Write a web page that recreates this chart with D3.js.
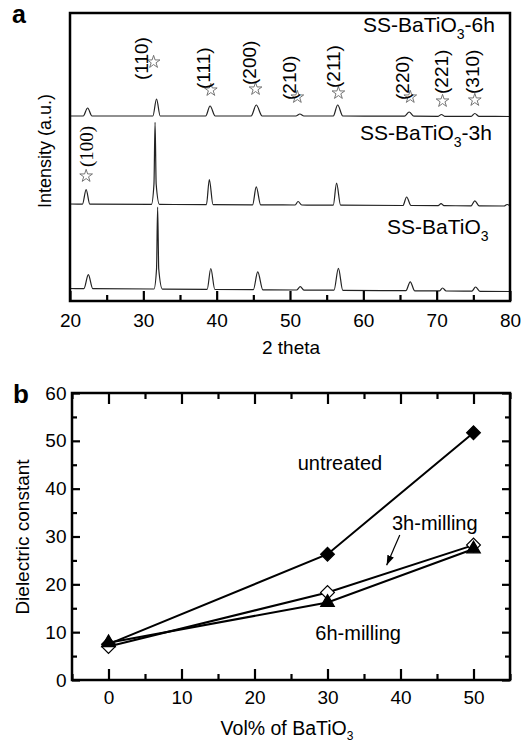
<!DOCTYPE html>
<html>
<head>
<meta charset="utf-8">
<script src="https://cdn.jsdelivr.net/npm/d3@7"></script>
<style>
  body { margin: 0; background: #fff; }
  svg text { font-family: "Liberation Sans", Arial, sans-serif; fill: #000; }
</style>
</head>
<body>
<div id="chart"></div>
<script>
// ---- panel a : XRD patterns, [2theta, intensity (a.u.)]
var xrdPlain = [[20,12.5],
  [21.9,12.4],[22.5,26.4],[23.1,12.4],
  [31.45,12],[31.8,32],[31.95,94],[32.1,32],[32.6,11.9],
  [38.7,11.6],[39.2,32.5],[39.75,11.5],
  [45.0,11.3],[45.6,29.2],[46.3,11.2],
  [50.9,11],[51.4,14.4],[51.9,10.9],
  [56.0,10.8],[56.6,32.7],[57.2,10.7],
  [65.8,10.3],[66.4,19.2],[67.0,10.2],
  [70.4,10.1],[70.8,13],[71.3,10],
  [74.8,9.8],[75.3,14],[75.9,9.7],
  [80,9.5]];

var xrd3h = [[20,97],
  [21.7,96.9],[22.2,111.4],[22.7,96.9],
  [31.1,96.6],[31.45,117],[31.6,178.6],[31.75,117],[32.2,96.6],
  [38.6,96.4],[39.0,121.4],[39.5,96.4],
  [44.9,96.2],[45.4,114.2],[46.0,96.2],
  [50.7,96],[51.1,99.5],[51.6,96],
  [55.9,95.8],[56.35,117.8],[56.9,95.8],
  [65.4,95.5],[65.9,104],[66.5,95.5],
  [70.2,95.3],[70.6,97.3],[71.0,95.3],
  [74.7,95.2],[75.2,100.2],[75.8,95.1],
  [79.2,95],[79.6,96.5],[80,95]];

var xrd6h = [[20,185],
  [21.8,185],[22.4,193],[23.0,185],
  [31.3,185],[31.8,202],[32.3,185],
  [38.5,185],[39.1,195],[39.8,185],
  [44.7,185],[45.4,196],[46.2,185],
  [50.8,185],[51.35,187],[51.9,185],
  [55.9,185],[56.5,196],[57.2,185],
  [65.6,184.8],[66.25,189],[66.9,184.8],
  [70.2,184.7],[70.65,186.5],[71.1,184.7],
  [74.7,184.6],[75.2,187.5],[75.8,184.6],
  [80,184.5]];

var hklNames = ["(100)","(110)","(111)","(200)","(210)","(211)","(220)","(221)","(310)"];
var hklTheta = [22.2, 31.4, 39.2, 45.3, 51.0, 56.6, 66.4, 70.8, 75.2];
var hklStarLevel = [125, 239, 211, 212, 204, 208, 204, 200, 201];

var thetaTicks = [20, 30, 40, 50, 60, 70, 80];

// ---- panel b : dielectric constant vs vol% BaTiO3
var volPct = [0, 30, 50];
var untreated = [7.5, 26.3, 51.7];
var milled3h = [7.0, 18.3, 28.2];
var milled6h = [7.8, 16.2, 27.4];
var volTicks = [0, 10, 20, 30, 40, 50];
var dkTicks = [0, 10, 20, 30, 40, 50, 60];

var width = 527, height = 742;

var svg = d3.select("#chart").append("svg")
    .attr("width", width)
    .attr("height", height);

//panel a frame
var pa = {left: 70, right: 510, top: 13, bottom: 301};
var xA = d3.scaleLinear().domain([20, 80]).range([pa.left, pa.right]);
var yA = d3.scaleLinear().domain([0, 288]).range([pa.bottom, pa.top]);

var lineA = d3.line()
    .x(function(d) { return xA(d[0]); })
    .y(function(d) { return yA(d[1]); })
    .curve(d3.curveMonotoneX);

svg.append("g").selectAll("path")
    .data([xrdPlain, xrd3h, xrd6h])
  .enter().append("path")
    .attr("d", lineA)
    .attr("fill", "none")
    .attr("stroke", "#222")
    .attr("stroke-width", 1.2);

// major / minor ticks on bottom
var axA = svg.append("g")
    .attr("transform", "translate(0," + pa.bottom + ")")
    .call(d3.axisBottom(xA).tickValues(thetaTicks).tickSize(-10).tickPadding(12.5));
axA.select(".domain").remove();
axA.selectAll("line").attr("stroke-width", 2.2);
axA.selectAll("text").attr("font-size", 19).attr("font-family", null);

var axAm = svg.append("g")
    .attr("transform", "translate(0," + pa.bottom + ")")
    .call(d3.axisBottom(xA).tickValues([25, 35, 45, 55, 65, 75]).tickSize(-6).tickFormat(""));
axAm.select(".domain").remove();
axAm.selectAll("line").attr("stroke-width", 2.2);

svg.append("rect")
    .attr("x", pa.left).attr("y", pa.top)
    .attr("width", pa.right - pa.left).attr("height", pa.bottom - pa.top)
    .attr("fill", "none").attr("stroke", "#000").attr("stroke-width", 2.5);

// stars + hkl labels
var labelOffset = [[0,-9],[-13,18],[-8,-1],[-7,-4],[-8,3],[-5,-5],[-8,3],[-2,-7],[-3,-6]];
var star = d3.symbol().type(d3.symbolStar).size(50);

hklNames.forEach(function(name, i) {
  var sx = xA(hklTheta[i]), sy = yA(hklStarLevel[i]);
  svg.append("path")
      .attr("d", star())
      .attr("transform", "translate(" + sx + "," + sy + ")")
      .attr("fill", "#fff")
      .attr("stroke", "#666")
      .attr("stroke-width", 0.9);
  var lx = sx + labelOffset[i][0] + 7, ly = sy + labelOffset[i][1];
  svg.append("text")
      .attr("transform", "translate(" + lx + "," + ly + ") rotate(-90)")
      .attr("font-size", 19)
      .style("font-family", i == 0 ? '"Liberation Serif", "Times New Roman", serif' : null)
      .text(name);
});

// sample names
function sampleLabel(x, y, suffix) {
  var t = svg.append("text")
      .attr("x", x).attr("y", y)
      .attr("font-size", 21);
  t.append("tspan").text("SS-BaTiO");
  t.append("tspan").attr("font-size", 14).attr("dy", 7).text("3");
  if (suffix) t.append("tspan").attr("dy", -7).text(suffix);
}
sampleLabel(363, 32, "-6h");
sampleLabel(360, 140, "-3h");
sampleLabel(387, 234, "");

svg.append("text")
    .attr("x", 291).attr("y", 353.5)
    .attr("text-anchor", "middle").attr("font-size", 19)
    .text("2 theta");

svg.append("text")
    .attr("transform", "translate(51,151) rotate(-90)")
    .attr("text-anchor", "middle").attr("font-size", 18)
    .text("Intensity (a.u.)");

svg.append("text")
    .attr("x", 12).attr("y", 23)
    .attr("font-size", 25).attr("font-weight", "bold")
    .text("a");

//panel b frame
var pb = {left: 72, right: 510, top: 393, bottom: 680};
var xB = d3.scaleLinear().domain([-5, 55]).range([pb.left, pb.right]);
var yB = d3.scaleLinear().domain([0, 60]).range([pb.bottom, pb.top]);

function tickStyle(g) {
  g.select(".domain").remove();
  g.selectAll("line").attr("stroke-width", 2.2);
  g.selectAll("text").attr("font-size", 19).attr("font-family", null);
}

var minorX = [-5, 5, 15, 25, 35, 45, 55];
var minorY = [5, 15, 25, 35, 45, 55];

svg.append("g").attr("transform", "translate(0," + pb.bottom + ")")
    .call(d3.axisBottom(xB).tickValues(volTicks).tickSize(-11).tickPadding(11)).call(tickStyle);
svg.append("g").attr("transform", "translate(0," + pb.bottom + ")")
    .call(d3.axisBottom(xB).tickValues(minorX).tickSize(-6).tickFormat("")).call(tickStyle);
svg.append("g").attr("transform", "translate(0," + pb.top + ")")
    .call(d3.axisTop(xB).tickValues(volTicks).tickSize(-11).tickFormat("")).call(tickStyle);
svg.append("g").attr("transform", "translate(0," + pb.top + ")")
    .call(d3.axisTop(xB).tickValues(minorX).tickSize(-6).tickFormat("")).call(tickStyle);
svg.append("g").attr("transform", "translate(" + pb.left + ",0)")
    .call(d3.axisLeft(yB).tickValues(dkTicks).tickSize(-8).tickPadding(5.5)).call(tickStyle);
svg.append("g").attr("transform", "translate(" + pb.left + ",0)")
    .call(d3.axisLeft(yB).tickValues(minorY).tickSize(-5).tickFormat("")).call(tickStyle);
svg.append("g").attr("transform", "translate(" + pb.right + ",0)")
    .call(d3.axisRight(yB).tickValues(dkTicks).tickSize(-8).tickFormat("")).call(tickStyle);
svg.append("g").attr("transform", "translate(" + pb.right + ",0)")
    .call(d3.axisRight(yB).tickValues(minorY).tickSize(-5).tickFormat("")).call(tickStyle);

svg.append("rect")
    .attr("x", pb.left).attr("y", pb.top)
    .attr("width", pb.right - pb.left).attr("height", pb.bottom - pb.top)
    .attr("fill", "none").attr("stroke", "#000").attr("stroke-width", 2.5);

var series = [
  {vals: untreated, shape: "diamond", fill: "#000"},
  {vals: milled3h, shape: "diamond", fill: "#fff"},
  {vals: milled6h, shape: "triangle", fill: "#000"}
];

var lineB = d3.line()
    .x(function(d, i) { return xB(volPct[i]); })
    .y(function(d) { return yB(d); });

series.forEach(function(s) {
  svg.append("path")
      .attr("d", lineB(s.vals))
      .attr("fill", "none")
      .attr("stroke", "#000")
      .attr("stroke-width", 2);
});

series.forEach(function(s) {
  var sym = s.shape == "diamond"
      ? d3.symbol().type(d3.symbolSquare).size(95)
      : d3.symbol().type(d3.symbolTriangle).size(80);
  svg.append("g").selectAll("path")
      .data(s.vals)
    .enter().append("path")
      .attr("d", sym())
      .attr("transform", function(d, i) {
        return "translate(" + xB(volPct[i]) + "," + yB(d) + ")" + (s.shape == "diamond" ? " rotate(45)" : "");
      })
      .attr("fill", s.fill)
      .attr("stroke", "#000")
      .attr("stroke-width", 1.2);
});

// annotations
svg.append("text").attr("x", xB(31.7)).attr("y", yB(43.9))
    .attr("text-anchor", "middle").attr("font-size", 20).text("untreated");
svg.append("text").attr("x", xB(44.7)).attr("y", yB(31.4))
    .attr("text-anchor", "middle").attr("font-size", 20).text("3h-milling");
svg.append("text").attr("x", xB(34.2)).attr("y", yB(8.4))
    .attr("text-anchor", "middle").attr("font-size", 20).text("6h-milling");

svg.append("defs").append("marker")
    .attr("id", "arrow")
    .attr("viewBox", "0 0 10 10")
    .attr("refX", 10).attr("refY", 5)
    .attr("markerWidth", 10).attr("markerHeight", 10)
    .attr("markerUnits", "userSpaceOnUse")
    .attr("orient", "auto")
  .append("path").attr("d", "M0,1.5L10,5L0,8.5Z").attr("fill", "#000");

svg.append("line")
    .attr("x1", xB(39.9)).attr("y1", yB(30.3))
    .attr("x2", xB(38.1)).attr("y2", yB(24.0))
    .attr("stroke", "#000").attr("stroke-width", 1.2)
    .attr("marker-end", "url(#arrow)");

var xl = svg.append("text")
    .attr("x", 287).attr("y", 735)
    .attr("text-anchor", "middle").attr("font-size", 19.5);
xl.append("tspan").text("Vol% of BaTiO");
xl.append("tspan").attr("font-size", 12).attr("dy", 5).text("3");

svg.append("text")
    .attr("transform", "translate(29,537) rotate(-90)")
    .attr("text-anchor", "middle").attr("font-size", 19)
    .text("Dielectric constant");

svg.append("text")
    .attr("x", 13).attr("y", 403)
    .attr("font-size", 26).attr("font-weight", "bold")
    .text("b");
</script>
</body>
</html>
